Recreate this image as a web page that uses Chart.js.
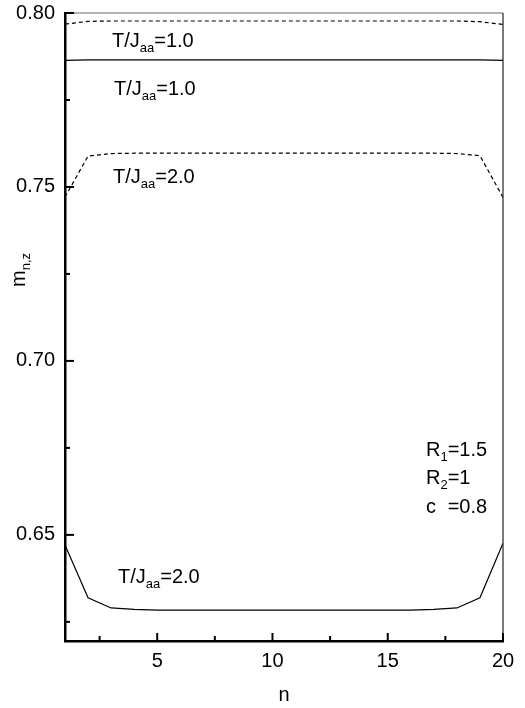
<!DOCTYPE html>
<html>
<head>
<meta charset="utf-8">
<script src="https://cdn.jsdelivr.net/npm/chart.js@4.4.1/dist/chart.umd.min.js"></script>
<style>
  html, body { margin: 0; padding: 0; background: #fff; }
  #wrap { width: 525px; height: 708px; }
</style>
</head>
<body>
<div id="wrap"><canvas id="magChart" width="525" height="708"></canvas></div>
<script>
// site index n
const nValues = [1, 2, 3, 4, 5, 6, 7, 8, 9, 10, 11, 12, 13, 14, 15, 16, 17, 18, 19, 20];

// m_{n,z} curves
const t1Dashed = [0.7968, 0.7976, 0.7977, 0.7977, 0.7977, 0.7977, 0.7977, 0.7977, 0.7977, 0.7977,
                  0.7977, 0.7977, 0.7977, 0.7977, 0.7977, 0.7977, 0.7977, 0.7977, 0.7975, 0.7967];
const t1Solid = [0.7864, 0.7865, 0.7865, 0.7865, 0.7865, 0.7865, 0.7865, 0.7865, 0.7865, 0.7865,
                 0.7865, 0.7865, 0.7865, 0.7865, 0.7865, 0.7865, 0.7865, 0.7865, 0.7865, 0.7864];
const t2Dashed = [0.7471, 0.7589, 0.7596, 0.7597, 0.7597, 0.7597, 0.7597, 0.7597, 0.7597, 0.7597,
                  0.7597, 0.7597, 0.7597, 0.7597, 0.7597, 0.7597, 0.7597, 0.7596, 0.7590, 0.7470];
const t2Solid = [0.6471, 0.6319, 0.6290, 0.6286, 0.6284, 0.6284, 0.6284, 0.6284, 0.6284, 0.6284,
                 0.6284, 0.6284, 0.6284, 0.6284, 0.6284, 0.6284, 0.6286, 0.6290, 0.6319, 0.6476];

// ticks
const xTicks = [2.5, 5, 7.5, 10, 12.5, 15, 17.5, 20];
const xTickLabels = ['', '5', '', '10', '', '15', '', '20'];
const yTicks = [0.625, 0.65, 0.675, 0.70, 0.725, 0.75, 0.775, 0.80];
const yTickLabels = ['', '0.65', '', '0.70', '', '0.75', '', '0.80'];

const FONT = '"Liberation Sans", Arial, Helvetica, sans-serif';

// text pieces: [text, isSubscript]
const notes = [
    { x: 112, y: 47, parts: [['T/J', false], ['aa', true], ['=1.0', false]] },
    { x: 114, y: 95, parts: [['T/J', false], ['aa', true], ['=1.0', false]] },
    { x: 113, y: 183, parts: [['T/J', false], ['aa', true], ['=2.0', false]] },
    { x: 118, y: 583, parts: [['T/J', false], ['aa', true], ['=2.0', false]] },
    { x: 426, y: 456, parts: [['R', false], ['1', true], ['=1.5', false]] },
    { x: 426, y: 484, parts: [['R', false], ['2', true], ['=1', false]] },
    { x: 426, y: 513, parts: [['c', false], ['=0.8', false]], alignTo: 'R1' }
];

function drawParts(ctx, parts, x, y) {
    let cx = x;
    parts.forEach(([txt, sub]) => {
        ctx.font = sub ? '13px ' + FONT : '20px ' + FONT;
        ctx.fillText(txt, cx, sub ? y + 5 : y);
        cx += ctx.measureText(txt).width;
    });
}

const frameAndTicks = {
    id: 'frameAndTicks',
    afterDraw(chart) {
        const ctx = chart.ctx;
        const a = chart.chartArea;
        const xs = chart.scales.x, ys = chart.scales.y;
        ctx.save();
        // top (grey) and right border
        ctx.strokeStyle = '#9a9a9a';
        ctx.lineWidth = 1.5;
        ctx.beginPath(); ctx.moveTo(a.left, a.top); ctx.lineTo(a.right, a.top); ctx.stroke();
        ctx.strokeStyle = '#222';
        ctx.lineWidth = 1.2;
        ctx.beginPath(); ctx.moveTo(a.right, a.top); ctx.lineTo(a.right, a.bottom); ctx.stroke();

        // inward ticks
        ctx.strokeStyle = '#000';
        ctx.lineWidth = 2;
        xs.ticks.forEach((t, i) => {
            const px = xs.getPixelForValue(t.value);
            const len = xTickLabels[i] ? 8 : 5;
            ctx.beginPath(); ctx.moveTo(px, a.bottom); ctx.lineTo(px, a.bottom - len); ctx.stroke();
        });
        ys.ticks.forEach((t, i) => {
            const py = ys.getPixelForValue(t.value);
            const len = yTickLabels[i] ? 9 : 5;
            ctx.beginPath(); ctx.moveTo(a.left, py); ctx.lineTo(a.left + len, py); ctx.stroke();
        });

        // annotations
        ctx.fillStyle = '#000';
        ctx.textBaseline = 'alphabetic';
        ctx.textAlign = 'left';
        ctx.font = '20px ' + FONT;
        const rW = ctx.measureText('R').width;
        ctx.font = '13px ' + FONT;
        const subW = ctx.measureText('1').width;
        notes.forEach(n => {
            if (n.alignTo) {
                drawParts(ctx, [n.parts[0]], n.x, n.y);
                drawParts(ctx, [n.parts[1]], n.x + rW + subW, n.y);
            } else {
                drawParts(ctx, n.parts, n.x, n.y);
            }
        });

        // axis titles
        ctx.font = '20px ' + FONT;
        ctx.textAlign = 'center';
        ctx.fillText('n', (a.left + a.right) / 2, 701);

        ctx.save();
        ctx.translate(25, 287);
        ctx.rotate(-Math.PI / 2);
        ctx.textAlign = 'left';
        drawParts(ctx, [['m', false], ['n,z', true]], 0, 0);
        ctx.restore();

        ctx.restore();
    }
};

const solid = (data) => ({
    data, borderColor: '#000', borderWidth: 1.2, pointRadius: 0, fill: false, tension: 0
});
const dashed = (data) => ({
    data, borderColor: '#000', borderWidth: 1.2, borderDash: [4, 3], pointRadius: 0, fill: false, tension: 0
});

new Chart(document.getElementById('magChart'), {
    type: 'line',
    data: {
        labels: nValues,
        datasets: [
            Object.assign({ label: 'T/Jaa=1.0 dashed' }, dashed(t1Dashed)),
            Object.assign({ label: 'T/Jaa=1.0 solid' }, solid(t1Solid)),
            Object.assign({ label: 'T/Jaa=2.0 dashed' }, dashed(t2Dashed)),
            Object.assign({ label: 'T/Jaa=2.0 solid' }, solid(t2Solid))
        ].map(ds => Object.assign(ds, { data: ds.data.map((v, i) => ({ x: nValues[i], y: v })) }))
    },
    options: {
        responsive: false,
        animation: false,
        layout: { padding: { top: 13, right: 22, left: 0, bottom: 0 } },
        plugins: { legend: { display: false }, tooltip: { enabled: false } },
        scales: {
            x: {
                type: 'linear',
                min: 1,
                max: 20,
                afterBuildTicks: s => { s.ticks = xTicks.map(v => ({ value: v })); },
                afterFit: s => { s.height = 67; s.paddingLeft = 0; s.paddingRight = 0; },
                grid: { drawOnChartArea: false, drawTicks: false },
                border: { color: '#000', width: 2.5 },
                ticks: {
                    color: '#000',
                    font: { family: FONT, size: 20 },
                    padding: 8,
                    maxRotation: 0,
                    autoSkip: false,
                    callback: (v, i) => xTickLabels[i]
                }
            },
            y: {
                type: 'linear',
                min: 0.6195,
                max: 0.80,
                afterBuildTicks: s => { s.ticks = yTicks.map(v => ({ value: v })); },
                afterFit: s => { s.width = 65; s.paddingTop = 0; s.paddingBottom = 0; },
                grid: { drawOnChartArea: false, drawTicks: false },
                border: { color: '#000', width: 2.5 },
                ticks: {
                    color: '#000',
                    font: { family: FONT, size: 20 },
                    padding: 10,
                    autoSkip: false,
                    callback: (v, i) => yTickLabels[i]
                }
            }
        }
    },
    plugins: [frameAndTicks]
});
</script>
</body>
</html>
